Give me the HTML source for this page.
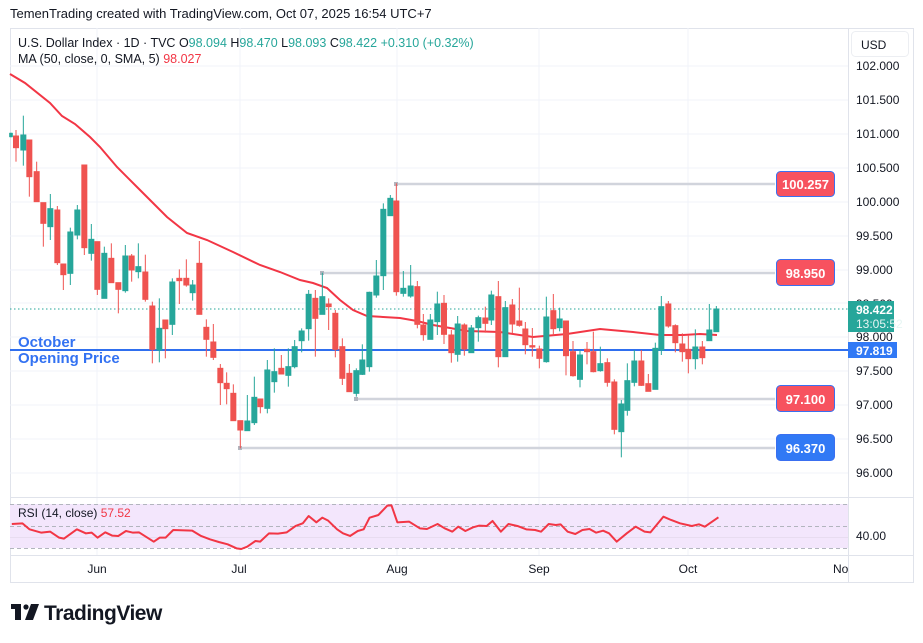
<!DOCTYPE html>
<html><head><meta charset="utf-8"><style>
body{margin:0;width:923px;height:643px;background:#fff;overflow:hidden;font-family:"Liberation Sans",sans-serif;}
svg{position:absolute;left:0;top:0}
</style></head><body>
<svg width="923" height="643" xmlns="http://www.w3.org/2000/svg" font-family="Liberation Sans, sans-serif">
<text x="10" y="18" font-size="13" fill="#131722">TemenTrading created with TradingView.com, Oct 07, 2025 16:54 UTC+7</text>
<rect x="10.5" y="28.5" width="903" height="554" fill="#fff" stroke="#e0e3eb"/>
<g stroke="#f0f3fa" stroke-width="1">
<line x1="10" y1="66" x2="848" y2="66"/><line x1="10" y1="100" x2="848" y2="100"/><line x1="10" y1="134" x2="848" y2="134"/><line x1="10" y1="168" x2="848" y2="168"/><line x1="10" y1="202" x2="848" y2="202"/><line x1="10" y1="236" x2="848" y2="236"/><line x1="10" y1="270" x2="848" y2="270"/><line x1="10" y1="303" x2="848" y2="303"/><line x1="10" y1="337" x2="848" y2="337"/><line x1="10" y1="371" x2="848" y2="371"/><line x1="10" y1="405" x2="848" y2="405"/><line x1="10" y1="439" x2="848" y2="439"/><line x1="10" y1="473" x2="848" y2="473"/>
<line x1="97" y1="28" x2="97" y2="555"/><line x1="240" y1="28" x2="240" y2="555"/><line x1="397" y1="28" x2="397" y2="555"/><line x1="539" y1="28" x2="539" y2="555"/><line x1="688" y1="28" x2="688" y2="555"/>
</g>
<line x1="848.5" y1="28" x2="848.5" y2="582" stroke="#e0e3eb"/>
<line x1="10" y1="497.5" x2="913" y2="497.5" stroke="#e0e3eb"/>
<line x1="10" y1="555.5" x2="913" y2="555.5" stroke="#e0e3eb"/>
<g stroke="#d1d4dc" stroke-width="2.5">
<line x1="396" y1="184" x2="775" y2="184"/><line x1="322" y1="273" x2="775" y2="273"/><line x1="356" y1="399" x2="775" y2="399"/><line x1="240" y1="448" x2="775" y2="448"/>
</g>
<g fill="#b2b5be"><rect x="394" y="182" width="4" height="4"/><rect x="320" y="271" width="4" height="4"/><rect x="354" y="397" width="4" height="4"/><rect x="238" y="446" width="4" height="4"/></g>
<line x1="10" y1="309" x2="848" y2="309" stroke="#26a69a" stroke-width="1" stroke-dasharray="1.5,2.5"/>
<line x1="10" y1="350" x2="848" y2="350" stroke="#2f6fef" stroke-width="2"/>
<text x="18" y="347" font-size="15" font-weight="bold" fill="#3372f2">October</text>
<text x="18" y="363" font-size="15" font-weight="bold" fill="#3372f2">Opening Price</text>
<polyline fill="none" stroke="#f23645" stroke-width="2" points="10,74 25,83 50,103 62,116 75,124 90,137 100,147 117,167 137,187 153,203 167,217 187,233 207,240 233,252 260,265 280,272 300,280 313,283 327,288 340,300 353,310 367,316 400,318 417,321 433,325 467,331 500,332 533,337 567,334 600,329 633,332 660,335 683,335 700,334 717,335"/>
<g transform="translate(0,100) scale(0.33333)">
<g stroke="#26a69a" stroke-width="3" fill="#26a69a">
<line x1="33" y1="98" x2="33" y2="112"/><rect x="29" y="100" width="8" height="10"/>
<line x1="70" y1="47" x2="70" y2="197"/><rect x="62.5" y="105" width="15" height="45"/>
<line x1="151" y1="282" x2="151" y2="420"/><rect x="143.5" y="326" width="15" height="54"/>
<line x1="211" y1="383" x2="211" y2="555"/><rect x="203.5" y="396" width="15" height="124"/>
<line x1="232" y1="315" x2="232" y2="418"/><rect x="224.5" y="330" width="15" height="75"/>
<line x1="274" y1="372" x2="274" y2="482"/><rect x="266.5" y="418" width="15" height="42"/>
<line x1="313" y1="440" x2="313" y2="595"/><rect x="305.5" y="460" width="15" height="135"/>
<line x1="376" y1="435" x2="376" y2="578"/><rect x="368.5" y="468" width="15" height="104"/>
<line x1="415" y1="430" x2="415" y2="535"/><rect x="407.5" y="500" width="15" height="15"/>
<line x1="478" y1="595" x2="478" y2="787"/><rect x="470.5" y="685" width="15" height="65"/>
<line x1="517" y1="535" x2="517" y2="705"/><rect x="509.5" y="546" width="15" height="127"/>
<line x1="578" y1="540" x2="578" y2="602"/><rect x="570.5" y="555" width="15" height="23"/>
<line x1="742" y1="885" x2="742" y2="992"/><rect x="734.5" y="963" width="15" height="29"/>
<line x1="763" y1="830" x2="763" y2="975"/><rect x="755.5" y="892" width="15" height="76"/>
<line x1="802" y1="780" x2="802" y2="940"/><rect x="794.5" y="810" width="15" height="115"/>
<line x1="823" y1="745" x2="823" y2="878"/><rect x="815.5" y="815" width="15" height="30"/>
<line x1="865" y1="745" x2="865" y2="860"/><rect x="857.5" y="800" width="15" height="26"/>
<line x1="884" y1="720" x2="884" y2="805"/><rect x="876.5" y="740" width="15" height="60"/>
<line x1="905" y1="685" x2="905" y2="757"/><rect x="897.5" y="693" width="15" height="29"/>
<line x1="926" y1="570" x2="926" y2="722"/><rect x="918.5" y="583" width="15" height="103"/>
<line x1="967" y1="518" x2="967" y2="643"/><rect x="959.5" y="590" width="15" height="53"/>
<line x1="1069" y1="805" x2="1069" y2="890"/><rect x="1061.5" y="812" width="15" height="68"/>
<line x1="1087" y1="733" x2="1087" y2="825"/><rect x="1079.5" y="780" width="15" height="43"/>
<line x1="1108" y1="575" x2="1108" y2="815"/><rect x="1100.5" y="577" width="15" height="223"/>
<line x1="1129" y1="480" x2="1129" y2="593"/><rect x="1121.5" y="528" width="15" height="57"/>
<line x1="1150" y1="310" x2="1150" y2="570"/><rect x="1142.5" y="328" width="15" height="199"/>
<line x1="1171" y1="285" x2="1171" y2="347"/><rect x="1163.5" y="295" width="15" height="52"/>
</g>
<g stroke="#ef5350" stroke-width="3" fill="#ef5350">
<line x1="48" y1="90" x2="48" y2="185"/><rect x="40.5" y="108" width="15" height="35"/>
<line x1="88" y1="120" x2="88" y2="290"/><rect x="80.5" y="120" width="15" height="110"/>
<line x1="110" y1="185" x2="110" y2="305"/><rect x="102.5" y="215" width="15" height="90"/>
<line x1="130" y1="308" x2="130" y2="440"/><rect x="122.5" y="308" width="15" height="62"/>
<line x1="172" y1="318" x2="172" y2="495"/><rect x="164.5" y="330" width="15" height="158"/>
<line x1="190" y1="492" x2="190" y2="570"/><rect x="182.5" y="492" width="15" height="32"/>
<line x1="253" y1="195" x2="253" y2="465"/><rect x="245.5" y="195" width="15" height="248"/>
<line x1="292" y1="425" x2="292" y2="585"/><rect x="284.5" y="425" width="15" height="143"/>
<line x1="334" y1="430" x2="334" y2="548"/><rect x="326.5" y="475" width="15" height="73"/>
<line x1="355" y1="548" x2="355" y2="640"/><rect x="347.5" y="548" width="15" height="20"/>
<line x1="395" y1="462" x2="395" y2="545"/><rect x="387.5" y="468" width="15" height="42"/>
<line x1="436" y1="464" x2="436" y2="605"/><rect x="428.5" y="516" width="15" height="82"/>
<line x1="457" y1="605" x2="457" y2="790"/><rect x="449.5" y="618" width="15" height="130"/>
<line x1="496" y1="660" x2="496" y2="775"/><rect x="488.5" y="660" width="15" height="26"/>
<line x1="538" y1="508" x2="538" y2="612"/><rect x="530.5" y="535" width="15" height="7"/>
<line x1="559" y1="478" x2="559" y2="560"/><rect x="551.5" y="535" width="15" height="20"/>
<line x1="598" y1="423" x2="598" y2="643"/><rect x="590.5" y="490" width="15" height="153"/>
<line x1="619" y1="658" x2="619" y2="770"/><rect x="611.5" y="682" width="15" height="36"/>
<line x1="640" y1="672" x2="640" y2="780"/><rect x="632.5" y="726" width="15" height="46"/>
<line x1="661" y1="792" x2="661" y2="915"/><rect x="653.5" y="805" width="15" height="43"/>
<line x1="680" y1="817" x2="680" y2="913"/><rect x="672.5" y="850" width="15" height="16"/>
<line x1="700" y1="853" x2="700" y2="962"/><rect x="692.5" y="880" width="15" height="82"/>
<line x1="721" y1="962" x2="721" y2="1045"/><rect x="713.5" y="962" width="15" height="28"/>
<line x1="781" y1="897" x2="781" y2="940"/><rect x="773.5" y="897" width="15" height="23"/>
<line x1="844" y1="765" x2="844" y2="822"/><rect x="836.5" y="805" width="15" height="17"/>
<line x1="946" y1="570" x2="946" y2="770"/><rect x="938.5" y="595" width="15" height="60"/>
<line x1="986" y1="595" x2="986" y2="690"/><rect x="978.5" y="612" width="15" height="8"/>
<line x1="1006" y1="630" x2="1006" y2="772"/><rect x="998.5" y="640" width="15" height="108"/>
<line x1="1027" y1="715" x2="1027" y2="855"/><rect x="1019.5" y="740" width="15" height="95"/>
<line x1="1048" y1="792" x2="1048" y2="875"/><rect x="1040.5" y="820" width="15" height="55"/>
<line x1="1189" y1="250" x2="1189" y2="587"/><rect x="1181.5" y="303" width="15" height="272"/>
</g>
</g>
<g transform="translate(400,170) scale(0.33333)">
<g stroke="#26a69a" stroke-width="3" fill="#26a69a">
<line x1="10" y1="303" x2="10" y2="380"/><rect x="2.5" y="355" width="15" height="15"/>
<line x1="32" y1="285" x2="32" y2="383"/><rect x="24.5" y="348" width="15" height="30"/>
<line x1="91" y1="432" x2="91" y2="508"/><rect x="83.5" y="450" width="15" height="58"/>
<line x1="112" y1="365" x2="112" y2="495"/><rect x="104.5" y="402" width="15" height="53"/>
<line x1="173" y1="438" x2="173" y2="575"/><rect x="165.5" y="462" width="15" height="91"/>
<line x1="214" y1="465" x2="214" y2="548"/><rect x="206.5" y="474" width="15" height="74"/>
<line x1="235" y1="437" x2="235" y2="515"/><rect x="227.5" y="443" width="15" height="30"/>
<line x1="274" y1="362" x2="274" y2="465"/><rect x="266.5" y="375" width="15" height="75"/>
<line x1="316" y1="393" x2="316" y2="560"/><rect x="308.5" y="413" width="15" height="147"/>
<line x1="439" y1="380" x2="439" y2="578"/><rect x="431.5" y="441" width="15" height="134"/>
<line x1="479" y1="413" x2="479" y2="484"/><rect x="471.5" y="447" width="15" height="26"/>
<line x1="540" y1="540" x2="540" y2="652"/><rect x="532.5" y="555" width="15" height="73"/>
<line x1="601" y1="530" x2="601" y2="605"/><rect x="593.5" y="581" width="15" height="21"/>
<line x1="664" y1="690" x2="664" y2="862"/><rect x="656.5" y="702" width="15" height="83"/>
<line x1="682" y1="580" x2="682" y2="737"/><rect x="674.5" y="632" width="15" height="89"/>
<line x1="703" y1="540" x2="703" y2="649"/><rect x="695.5" y="573" width="15" height="64"/>
<line x1="766" y1="518" x2="766" y2="658"/><rect x="758.5" y="535" width="15" height="123"/>
<line x1="784" y1="378" x2="784" y2="555"/><rect x="776.5" y="410" width="15" height="130"/>
<line x1="886" y1="478" x2="886" y2="598"/><rect x="878.5" y="531" width="15" height="35"/>
<line x1="928" y1="402" x2="928" y2="512"/><rect x="920.5" y="480" width="15" height="32"/>
<line x1="949" y1="408" x2="949" y2="485"/><rect x="941.5" y="417" width="15" height="68"/>
</g>
<g stroke="#ef5350" stroke-width="3" fill="#ef5350">
<line x1="52" y1="333" x2="52" y2="475"/><rect x="44.5" y="350" width="15" height="113"/>
<line x1="70" y1="432" x2="70" y2="512"/><rect x="62.5" y="465" width="15" height="29"/>
<line x1="132" y1="375" x2="132" y2="522"/><rect x="124.5" y="400" width="15" height="93"/>
<line x1="154" y1="480" x2="154" y2="578"/><rect x="146.5" y="495" width="15" height="53"/>
<line x1="193" y1="460" x2="193" y2="557"/><rect x="185.5" y="465" width="15" height="72"/>
<line x1="256" y1="410" x2="256" y2="488"/><rect x="248.5" y="444" width="15" height="16"/>
<line x1="295" y1="333" x2="295" y2="592"/><rect x="287.5" y="380" width="15" height="180"/>
<line x1="337" y1="387" x2="337" y2="490"/><rect x="329.5" y="405" width="15" height="57"/>
<line x1="358" y1="353" x2="358" y2="470"/><rect x="350.5" y="453" width="15" height="13"/>
<line x1="376" y1="456" x2="376" y2="553"/><rect x="368.5" y="477" width="15" height="47"/>
<line x1="397" y1="474" x2="397" y2="560"/><rect x="389.5" y="527" width="15" height="4"/>
<line x1="418" y1="527" x2="418" y2="595"/><rect x="410.5" y="537" width="15" height="28"/>
<line x1="460" y1="372" x2="460" y2="496"/><rect x="452.5" y="422" width="15" height="54"/>
<line x1="498" y1="453" x2="498" y2="616"/><rect x="490.5" y="453" width="15" height="104"/>
<line x1="519" y1="513" x2="519" y2="620"/><rect x="511.5" y="545" width="15" height="72"/>
<line x1="561" y1="516" x2="561" y2="583"/><rect x="553.5" y="538" width="15" height="7"/>
<line x1="580" y1="485" x2="580" y2="607"/><rect x="572.5" y="545" width="15" height="60"/>
<line x1="622" y1="565" x2="622" y2="650"/><rect x="614.5" y="578" width="15" height="59"/>
<line x1="643" y1="628" x2="643" y2="793"/><rect x="635.5" y="636" width="15" height="142"/>
<line x1="724" y1="540" x2="724" y2="648"/><rect x="716.5" y="573" width="15" height="73"/>
<line x1="745" y1="612" x2="745" y2="664"/><rect x="737.5" y="641" width="15" height="23"/>
<line x1="805" y1="393" x2="805" y2="473"/><rect x="797.5" y="402" width="15" height="66"/>
<line x1="826" y1="463" x2="826" y2="547"/><rect x="818.5" y="467" width="15" height="51"/>
<line x1="847" y1="490" x2="847" y2="575"/><rect x="839.5" y="522" width="15" height="23"/>
<line x1="865" y1="497" x2="865" y2="610"/><rect x="857.5" y="538" width="15" height="28"/>
<line x1="907" y1="513" x2="907" y2="583"/><rect x="899.5" y="531" width="15" height="32"/>
</g>
</g>
<g font-size="13" font-weight="bold" fill="#fff" text-anchor="middle">
<rect x="776.5" y="171.5" width="58" height="25" rx="4" fill="#f7525f" stroke="#3a6ff0"/><text x="805.5" y="189">100.257</text>
<rect x="776.5" y="259.5" width="58" height="26" rx="4" fill="#f7525f" stroke="#3a6ff0"/><text x="805.5" y="278">98.950</text>
<rect x="776.5" y="385.5" width="58" height="26" rx="4" fill="#f7525f" stroke="#3a6ff0"/><text x="805.5" y="404">97.100</text>
<rect x="776.5" y="434.5" width="58" height="26" rx="4" fill="#3179f5" stroke="#3a6ff0"/><text x="805.5" y="453">96.370</text>
</g>
<rect x="851.5" y="31.5" width="57" height="25" rx="4" fill="#fff" stroke="#eceef2"/>
<text x="861" y="49" font-size="12" fill="#131722">USD</text>
<g font-size="12" fill="#131722">
<text x="856" y="70">102.000</text><text x="856" y="104">101.500</text><text x="856" y="138">101.000</text><text x="856" y="172">100.500</text><text x="856" y="206">100.000</text><text x="856" y="240">99.500</text><text x="856" y="274">99.000</text><text x="856" y="308">98.500</text><text x="856" y="341">98.000</text><text x="856" y="375">97.500</text><text x="856" y="409">97.000</text><text x="856" y="443">96.500</text><text x="856" y="477">96.000</text>
<text x="856" y="540">40.00</text>
</g>
<rect x="848" y="301" width="46" height="31" fill="#26a69a"/>
<text x="856" y="314" font-size="12" font-weight="bold" fill="#fff">98.422</text>
<text x="856" y="328" font-size="12" fill="#e6f5f3">13:05:52</text>
<rect x="848" y="342" width="49" height="16" fill="#3179f5"/>
<text x="856" y="355" font-size="12" font-weight="bold" fill="#fff">97.819</text>
<rect x="10" y="504" width="838" height="44" fill="#f3e6fc"/>
<g stroke="#b2b5be" stroke-width="1" stroke-dasharray="4,3"><line x1="10" y1="504.5" x2="848" y2="504.5"/><line x1="10" y1="526.5" x2="848" y2="526.5"/><line x1="10" y1="548.5" x2="848" y2="548.5"/></g>
<line x1="10" y1="537.5" x2="848" y2="537.5" stroke="#e8dcf0"/>
<g transform="translate(0,490) scale(0.5913,0.3333)">
<polyline fill="none" stroke="#f23645" stroke-width="2" vector-effect="non-scaling-stroke" stroke-linejoin="round" points="20,102 38,100 50,118 70,128 85,125 100,143 108,146 130,118 145,130 155,128 165,143 178,127 190,137 200,138 213,123 225,128 235,127 260,155 270,143 280,143 293,120 325,122 340,138 355,148 370,156 385,163 400,175 408,177 418,170 432,153 440,155 455,130 470,131 485,127 500,108 512,100 522,78 535,97 545,83 555,92 570,118 580,130 592,138 605,123 615,118 625,83 640,75 655,47 662,46 672,97 692,95 710,115 722,117 740,102 752,115 765,125 775,110 787,123 800,112 810,107 823,108 833,93 847,125 860,102 875,108 890,118 905,120 915,125 928,102 940,105 948,103 960,125 973,132 985,120 997,117 1008,128 1020,122 1030,130 1043,155 1060,130 1075,110 1090,125 1100,127 1122,80 1135,90 1150,100 1170,108 1182,103 1192,110 1215,82"/>
</g>
<text x="18" y="517" font-size="12" fill="#131722">RSI (14, close) <tspan fill="#f23645">57.52</tspan></text>
<g font-size="12" fill="#131722" text-anchor="middle">
<text x="97" y="573">Jun</text><text x="239" y="573">Jul</text><text x="397" y="573">Aug</text><text x="539" y="573">Sep</text><text x="688" y="573">Oct</text>
</g>
<svg x="0" y="0" width="848" height="600"><text x="833" y="573" font-size="12" fill="#131722">Nov</text></svg>
<text x="18" y="47" font-size="12.5" fill="#131722">U.S. Dollar Index · 1D · TVC  <tspan fill="#131722">O</tspan><tspan fill="#26a69a">98.094</tspan> <tspan>H</tspan><tspan fill="#26a69a">98.470</tspan> <tspan>L</tspan><tspan fill="#26a69a">98.093</tspan> <tspan>C</tspan><tspan fill="#26a69a">98.422</tspan> <tspan fill="#26a69a">+0.310 (+0.32%)</tspan></text>
<text x="18" y="63" font-size="12.5" fill="#131722">MA (50, close, 0, SMA, 5) <tspan fill="#f23645">98.027</tspan></text>
<g fill="#131722"><rect x="11" y="604" width="10" height="5"/><rect x="15" y="604" width="6" height="16"/><circle cx="26" cy="607" r="2.6"/><polygon points="31,604 39,604 33,620 25,620"/></g>
<text x="44" y="620" font-size="21" font-weight="bold" fill="#131722" letter-spacing="-0.5">TradingView</text>
</svg>
</body></html>
